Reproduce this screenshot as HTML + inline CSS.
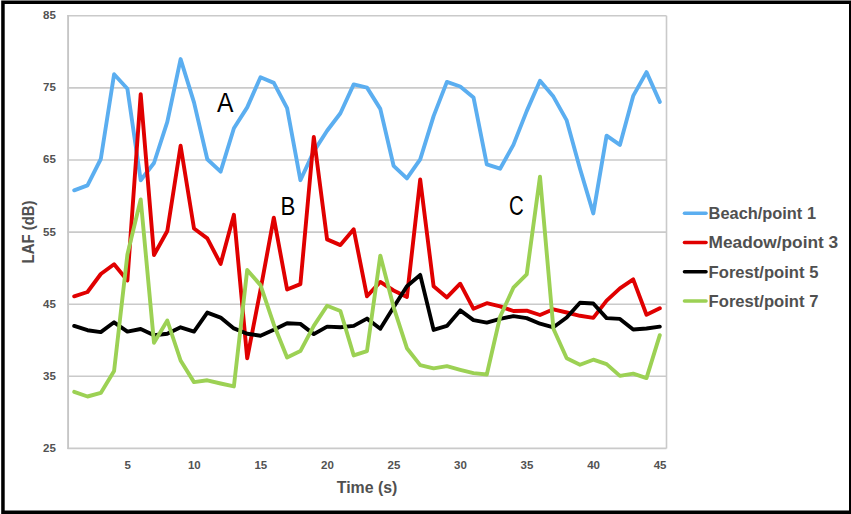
<!DOCTYPE html>
<html lang="en">
<head>
<meta charset="utf-8">
<title>LAF (dB) vs Time (s)</title>
<style>
html,body{margin:0;padding:0;background:#fff;}
body{width:851px;height:514px;overflow:hidden;}
svg{display:block;}
text{font-family:"Liberation Sans",sans-serif;}
.tick{font-size:11.5px;font-weight:bold;fill:#525252;}
.axt{font-size:17px;font-weight:bold;fill:#505050;}
.leg{font-size:17.3px;font-weight:bold;fill:#505050;}
.ann{font-size:25px;fill:#000;}
.ser{fill:none;stroke-linejoin:round;stroke-linecap:round;}
</style>
</head>
<body>
<svg width="851" height="514" viewBox="0 0 851 514">
<rect x="0" y="0" width="851" height="514" fill="#ffffff"/>

<g stroke="#cacaca" stroke-width="1.6" fill="none">
<line x1="67.5" y1="15.80" x2="666.5" y2="15.80"/>
<line x1="67.5" y1="87.90" x2="666.5" y2="87.90"/>
<line x1="67.5" y1="160.00" x2="666.5" y2="160.00"/>
<line x1="67.5" y1="232.10" x2="666.5" y2="232.10"/>
<line x1="67.5" y1="304.20" x2="666.5" y2="304.20"/>
<line x1="67.5" y1="376.30" x2="666.5" y2="376.30"/>
<line x1="67.5" y1="448.40" x2="666.5" y2="448.40"/>
<line x1="666.5" y1="15.8" x2="666.5" y2="448.4"/>
</g>
<line x1="68.1" y1="15.100000000000001" x2="68.1" y2="449.09999999999997" stroke="#c6c6c6" stroke-width="1.9"/>
<polyline class="ser" stroke="#5baef0" stroke-width="3.9" points="74.2,190.3 87.5,185.3 100.8,159.0 114.1,74.3 127.4,88.7 140.7,180.2 154.0,163.0 167.3,121.9 180.6,59.1 194.0,102.4 207.3,159.3 220.6,171.6 233.9,128.3 247.2,107.4 260.5,77.2 273.8,82.9 287.1,108.2 300.4,180.2 313.8,151.4 327.1,130.8 340.4,113.2 353.7,84.4 367.0,87.6 380.3,108.9 393.6,165.8 406.9,178.4 420.2,159.3 433.6,116.1 446.9,81.9 460.2,86.5 473.5,97.4 486.8,164.4 500.1,168.7 513.4,144.9 526.7,111.1 540.0,80.8 553.4,96.6 566.7,120.4 580.0,168.7 593.3,213.4 606.6,135.6 619.9,144.9 633.2,95.9 646.5,72.1 659.8,101.9"/>
<polyline class="ser" stroke="#e00000" stroke-width="3.9" points="74.2,296.3 87.5,292.0 100.8,274.0 114.1,264.2 127.4,280.4 140.7,94.1 154.0,255.0 167.3,231.0 180.6,145.7 194.0,228.5 207.3,238.4 220.6,263.9 233.9,214.8 247.2,358.3 260.5,289.8 273.8,217.7 287.1,289.5 300.4,284.1 313.8,137.0 327.1,239.4 340.4,245.1 353.7,229.3 367.0,296.3 380.3,281.9 393.6,290.5 406.9,297.0 420.2,179.5 433.6,286.2 446.9,297.4 460.2,283.7 473.5,308.8 486.8,303.2 500.1,306.4 513.4,311.0 526.7,310.7 540.0,315.0 553.4,309.3 566.7,312.5 580.0,315.8 593.3,317.9 606.6,300.6 619.9,288.4 633.2,279.4 646.5,314.7 659.8,308.2"/>
<polyline class="ser" stroke="#000000" stroke-width="3.9" points="74.2,325.9 87.5,330.2 100.8,332.1 114.1,322.3 127.4,331.6 140.7,329.0 154.0,335.2 167.3,333.8 180.6,327.3 194.0,331.6 207.3,312.6 220.6,317.6 233.9,328.4 247.2,333.8 260.5,335.7 273.8,329.8 287.1,323.3 300.4,323.9 313.8,334.1 327.1,326.6 340.4,327.3 353.7,325.9 367.0,318.6 380.3,328.7 393.6,307.3 406.9,286.2 420.2,274.9 433.6,329.9 446.9,325.9 460.2,310.4 473.5,320.1 486.8,322.6 500.1,318.9 513.4,316.1 526.7,318.1 540.0,323.7 553.4,327.3 566.7,317.5 580.0,302.8 593.3,303.5 606.6,318.1 619.9,318.9 633.2,329.5 646.5,328.5 659.8,326.6"/>
<polyline class="ser" stroke="#9cd154" stroke-width="3.9" points="74.2,391.8 87.5,396.5 100.8,392.9 114.1,370.9 127.4,254.5 140.7,199.4 154.0,342.7 167.3,320.5 180.6,360.5 194.0,382.1 207.3,380.3 220.6,383.5 233.9,386.4 247.2,270.0 260.5,285.1 273.8,324.4 287.1,357.4 300.4,351.1 313.8,325.9 327.1,305.7 340.4,311.0 353.7,355.4 367.0,351.1 380.3,255.6 393.6,307.1 406.9,348.2 420.2,365.1 433.6,368.4 446.9,366.2 460.2,369.8 473.5,373.1 486.8,374.5 500.1,316.7 513.4,287.7 526.7,274.4 540.0,176.6 553.4,328.7 566.7,358.3 580.0,364.8 593.3,359.7 606.6,364.1 619.9,375.9 633.2,373.6 646.5,378.1 659.8,335.2"/>
<text class="tick" x="55.8" y="19.2" text-anchor="end">85</text>
<text class="tick" x="55.8" y="91.3" text-anchor="end">75</text>
<text class="tick" x="55.8" y="163.4" text-anchor="end">65</text>
<text class="tick" x="55.8" y="235.5" text-anchor="end">55</text>
<text class="tick" x="55.8" y="307.6" text-anchor="end">45</text>
<text class="tick" x="55.8" y="379.7" text-anchor="end">35</text>
<text class="tick" x="55.8" y="451.8" text-anchor="end">25</text>
<text class="tick" x="127.7" y="469" text-anchor="middle">5</text>
<text class="tick" x="194.3" y="469" text-anchor="middle">10</text>
<text class="tick" x="260.8" y="469" text-anchor="middle">15</text>
<text class="tick" x="327.4" y="469" text-anchor="middle">20</text>
<text class="tick" x="393.9" y="469" text-anchor="middle">25</text>
<text class="tick" x="460.5" y="469" text-anchor="middle">30</text>
<text class="tick" x="527.0" y="469" text-anchor="middle">35</text>
<text class="tick" x="593.6" y="469" text-anchor="middle">40</text>
<text class="tick" x="660.1" y="469" text-anchor="middle">45</text>
<text class="axt" x="367.1" y="493.3" text-anchor="middle" textLength="60.6" lengthAdjust="spacingAndGlyphs">Time (s)</text>
<text class="axt" style="font-size:15.6px" transform="translate(34.3,231.9) rotate(-90)" text-anchor="middle" textLength="63" lengthAdjust="spacingAndGlyphs">LAF (dB)</text>
<text class="ann" transform="translate(225.25,111.8) scale(0.985,1.095)" text-anchor="middle">A</text>
<text class="ann" transform="translate(287.8,214.7) scale(0.89,1)" text-anchor="middle">B</text>
<text class="ann" transform="translate(516.45,214.5) scale(0.816,1.105)" text-anchor="middle">C</text>
<line x1="684.5" y1="213.2" x2="706" y2="213.2" stroke="#5baef0" stroke-width="3.6" stroke-linecap="round"/>
<text class="leg" x="708.6" y="219.0" textLength="107.4" lengthAdjust="spacingAndGlyphs">Beach/point 1</text>
<line x1="684.5" y1="242.5" x2="706" y2="242.5" stroke="#e00000" stroke-width="3.6" stroke-linecap="round"/>
<text class="leg" x="708.6" y="248.3" textLength="129.6" lengthAdjust="spacingAndGlyphs">Meadow/point 3</text>
<line x1="684.5" y1="271.7" x2="706" y2="271.7" stroke="#000000" stroke-width="3.6" stroke-linecap="round"/>
<text class="leg" x="708.6" y="277.5" textLength="109.8" lengthAdjust="spacingAndGlyphs">Forest/point 5</text>
<line x1="684.5" y1="301.0" x2="706" y2="301.0" stroke="#9cd154" stroke-width="3.6" stroke-linecap="round"/>
<text class="leg" x="708.6" y="306.8" textLength="109.8" lengthAdjust="spacingAndGlyphs">Forest/point 7</text>
<rect x="1.2" y="0" width="849.8" height="1" fill="#808080"/>
<path fill="#000" fill-rule="evenodd" d="M1.2,1 H851 V514 H1.2 Z M4.7,4.1 V510.4 H849 V4.1 Z"/>
</svg>
</body>
</html>
